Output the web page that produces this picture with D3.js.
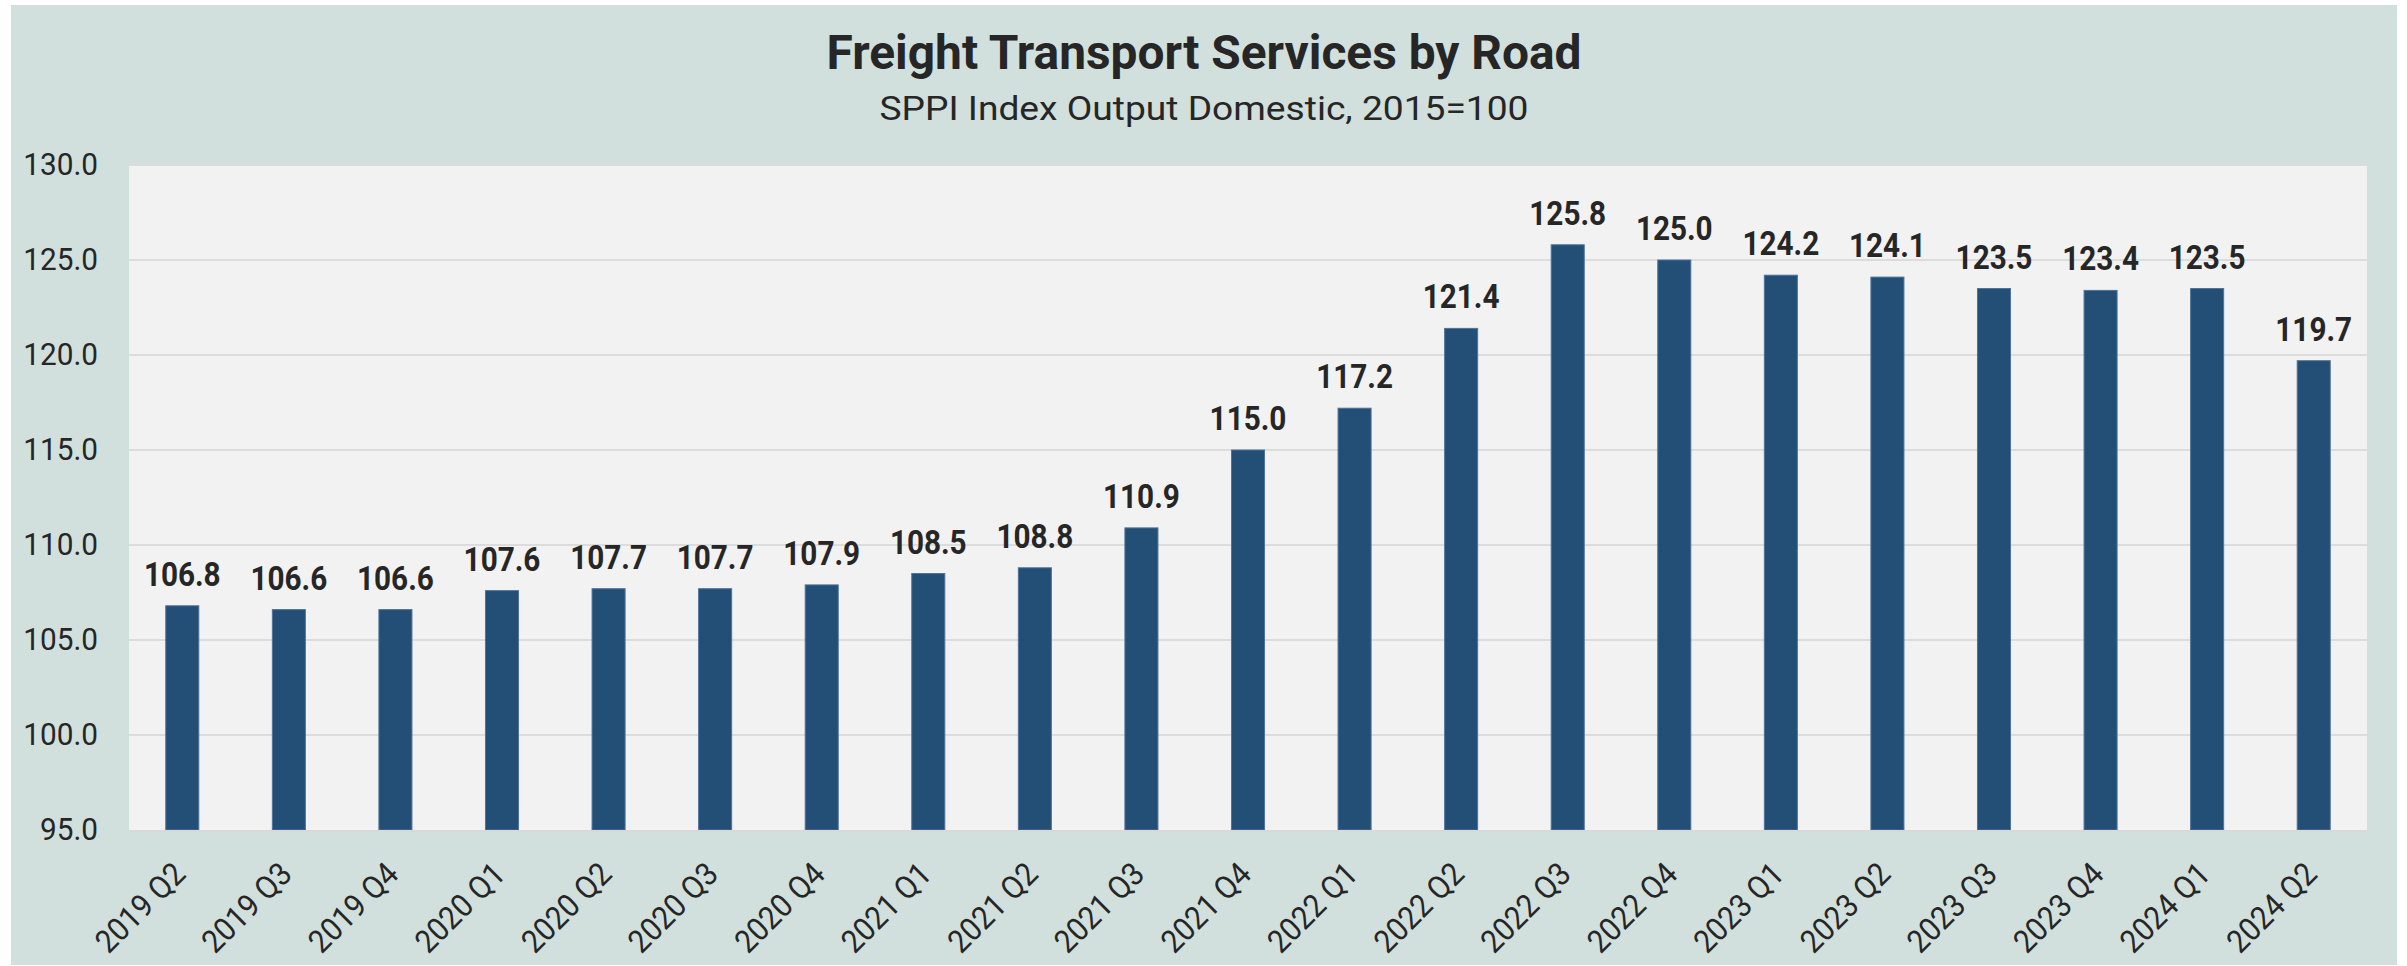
<!DOCTYPE html>
<html>
<head>
<meta charset="utf-8">
<script src="https://cdn.jsdelivr.net/npm/d3@7"></script>
<style>
  html, body { margin: 0; padding: 0; background: #ffffff; }
  svg { display: block; }
  text { font-family: Roboto, "Noto Sans", sans-serif; }
</style>
</head>
<body>
<svg id="chart" width="2407" height="966"></svg>
<script>
const categories = ["2019 Q2","2019 Q3","2019 Q4","2020 Q1","2020 Q2","2020 Q3","2020 Q4",
  "2021 Q1","2021 Q2","2021 Q3","2021 Q4","2022 Q1","2022 Q2","2022 Q3","2022 Q4",
  "2023 Q1","2023 Q2","2023 Q3","2023 Q4","2024 Q1","2024 Q2"];
const values = [106.8,106.6,106.6,107.6,107.7,107.7,107.9,108.5,108.8,110.9,115.0,117.2,
  121.4,125.8,125.0,124.2,124.1,123.5,123.4,123.5,119.7];
const yTicks = [95,100,105,110,115,120,125,130];
const titleText = "Freight Transport Services by Road";
const subtitleText = "SPPI Index Output Domestic, 2015=100";

const W = 2407, H = 966;
const plot = { left: 129, right: 2367, top: 165, bottom: 830 };
const svg = d3.select("#chart");

// condense helper (reference text is narrow)
function condense(sel, f) {
  sel.each(function() {
    const n = this.getComputedTextLength();
    d3.select(this).attr("textLength", n * f).attr("lengthAdjust", "spacingAndGlyphs");
  });
}

svg.append("rect").attr("x", 11).attr("y", 5).attr("width", 2386).attr("height", 960)
  .attr("fill", "#d1e0dd");
svg.append("rect").attr("x", plot.left).attr("y", plot.top)
  .attr("width", plot.right - plot.left).attr("height", plot.bottom - plot.top)
  .attr("fill", "#f2f2f2");

const x = d3.scaleBand().domain(categories).range([plot.left, plot.right])
  .paddingInner(0.69).paddingOuter(0.345);
const y = d3.scaleLinear().domain([95, 130]).range([plot.bottom, plot.top]);

// gridlines
svg.append("g").selectAll("line").data(yTicks.filter(d => d > 95)).join("line")
  .attr("x1", plot.left).attr("x2", plot.right)
  .attr("y1", d => y(d)).attr("y2", d => y(d))
  .attr("stroke", "#dcdcdc").attr("stroke-width", 2);

// bars
svg.append("g").selectAll("rect").data(values).join("rect")
  .attr("x", (d, i) => x(categories[i]))
  .attr("width", x.bandwidth())
  .attr("y", d => y(d))
  .attr("height", d => y(95) - y(d))
  .attr("fill", "#234e75")
  .attr("stroke", "#4f7399").attr("stroke-width", 1);

// baseline
svg.append("line").attr("x1", plot.left).attr("x2", plot.right)
  .attr("y1", plot.bottom + 1).attr("y2", plot.bottom + 1)
  .attr("stroke", "#d9d9d9").attr("stroke-width", 2);

// y axis
const yAxis = svg.append("g").attr("transform", `translate(${plot.left},0)`)
  .call(d3.axisLeft(y).tickValues(yTicks).tickFormat(d3.format(".1f")).tickSize(0).tickPadding(31));
yAxis.select(".domain").remove();
yAxis.selectAll("text").attr("font-size", 32).attr("fill", "#262626")
  .attr("font-family", "Roboto").attr("dy", "0.3em").call(condense, 0.93);

// x axis
const xAxis = svg.append("g").attr("transform", `translate(0,${plot.bottom})`)
  .call(d3.axisBottom(x).tickSize(0));
xAxis.select(".domain").remove();
xAxis.selectAll("text")
  .attr("font-size", 32).attr("fill", "#262626").attr("font-family", "Roboto")
  .attr("x", 0).attr("y", 0).attr("dy", 0)
  .attr("text-anchor", "end")
  .attr("transform", "translate(5,46) rotate(-45)")
  .call(condense, 0.93);

// data labels
svg.append("g").selectAll("text").data(values).join("text")
  .attr("x", (d, i) => x(categories[i]) + x.bandwidth() / 2)
  .attr("y", d => y(d) - 20)
  .attr("text-anchor", "middle")
  .attr("font-size", 33).attr("font-weight", "bold").attr("fill", "#262626")
  .text(d => d3.format(".1f")(d))
  .call(condense, 0.9);

// titles
svg.append("text").attr("x", 1204).attr("y", 69).attr("text-anchor", "middle")
  .attr("font-size", 48).attr("font-weight", "bold").attr("fill", "#262626")
  .text(titleText).attr("textLength", 755).attr("lengthAdjust", "spacingAndGlyphs");
svg.append("text").attr("x", 1204).attr("y", 120).attr("text-anchor", "middle")
  .attr("font-size", 34).attr("fill", "#262626")
  .text(subtitleText).attr("textLength", 649).attr("lengthAdjust", "spacingAndGlyphs");
</script>
</body>
</html>
